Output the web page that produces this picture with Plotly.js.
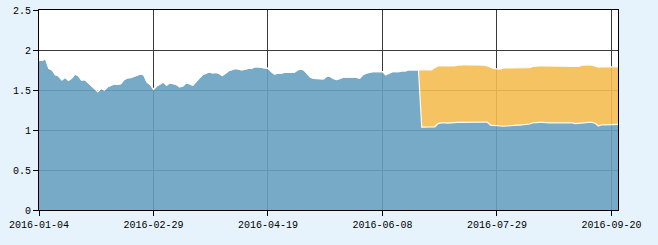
<!DOCTYPE html>
<html>
<head>
<meta charset="utf-8">
<script src="https://cdn.plot.ly/plotly-3.0.1.min.js"></script>
<style>html,body{margin:0;padding:0;background:#e7f3fc;}#chart{width:658px;height:245px;}</style>
</head>
<body>
<div id="chart"></div>
<script>
// Trading days (categories)
const dates = [
'2016-01-04','2016-01-05','2016-01-06','2016-01-07','2016-01-08','2016-01-11','2016-01-12','2016-01-13','2016-01-14','2016-01-15',
'2016-01-18','2016-01-19','2016-01-20','2016-01-21','2016-01-22','2016-01-25','2016-01-26','2016-01-27','2016-01-28','2016-01-29',
'2016-02-01','2016-02-02','2016-02-03','2016-02-04','2016-02-05','2016-02-15','2016-02-16','2016-02-17','2016-02-18','2016-02-19',
'2016-02-22','2016-02-23','2016-02-24','2016-02-25','2016-02-26','2016-02-29',
'2016-03-01','2016-03-02','2016-03-03','2016-03-04','2016-03-07','2016-03-08','2016-03-09','2016-03-10','2016-03-11','2016-03-14',
'2016-03-15','2016-03-16','2016-03-17','2016-03-18','2016-03-21','2016-03-22','2016-03-23','2016-03-24','2016-03-25','2016-03-28',
'2016-03-29','2016-03-30','2016-03-31',
'2016-04-01','2016-04-05','2016-04-06','2016-04-07','2016-04-08','2016-04-11','2016-04-12','2016-04-13','2016-04-14','2016-04-15',
'2016-04-18','2016-04-19','2016-04-20','2016-04-21','2016-04-22','2016-04-25','2016-04-26','2016-04-27','2016-04-28','2016-04-29',
'2016-05-03','2016-05-04','2016-05-05','2016-05-06','2016-05-09','2016-05-10','2016-05-11','2016-05-12','2016-05-13','2016-05-16',
'2016-05-17','2016-05-18','2016-05-19','2016-05-20','2016-05-23','2016-05-24','2016-05-25','2016-05-26','2016-05-27','2016-05-30',
'2016-05-31',
'2016-06-01','2016-06-02','2016-06-03','2016-06-06','2016-06-07','2016-06-08','2016-06-13','2016-06-14','2016-06-15','2016-06-16',
'2016-06-17','2016-06-20','2016-06-21','2016-06-22','2016-06-23','2016-06-24','2016-06-27','2016-06-28','2016-06-29','2016-06-30',
'2016-07-01','2016-07-04','2016-07-05','2016-07-06','2016-07-07','2016-07-08','2016-07-11','2016-07-12','2016-07-13','2016-07-14',
'2016-07-15','2016-07-18','2016-07-19','2016-07-20','2016-07-21','2016-07-22','2016-07-25','2016-07-26','2016-07-27','2016-07-28',
'2016-07-29',
'2016-08-01','2016-08-02','2016-08-03','2016-08-04','2016-08-05','2016-08-08','2016-08-09','2016-08-10','2016-08-11','2016-08-12',
'2016-08-15','2016-08-16','2016-08-17','2016-08-18','2016-08-19','2016-08-22','2016-08-23','2016-08-24','2016-08-25','2016-08-26',
'2016-08-29','2016-08-30','2016-08-31',
'2016-09-01','2016-09-02','2016-09-05','2016-09-06','2016-09-07','2016-09-08','2016-09-09','2016-09-12','2016-09-13','2016-09-14',
'2016-09-19','2016-09-20','2016-09-21','2016-09-22'
];

// Series 1 (blue, bottom)
const seriesBlue = [
1.87,1.87,1.89,1.77,1.75,1.69,1.675,1.625,1.66,1.62,
1.65,1.70,1.68,1.625,1.63,1.59,1.55,1.52,1.48,1.52,
1.50,1.54,1.56,1.575,1.57,1.58,1.63,1.65,1.655,1.67,
1.69,1.70,1.69,1.60,1.57,1.51,1.55,1.58,1.60,1.56,
1.59,1.58,1.57,1.54,1.55,1.59,1.58,1.56,1.61,1.65,
1.69,1.71,1.725,1.715,1.72,1.71,1.68,1.71,1.74,1.755,
1.77,1.76,1.75,1.76,1.77,1.77,1.79,1.79,1.785,1.775,
1.77,1.73,1.70,1.71,1.71,1.72,1.72,1.72,1.72,1.75,
1.76,1.75,1.70,1.66,1.645,1.645,1.645,1.64,1.675,1.67,
1.645,1.63,1.645,1.66,1.66,1.66,1.66,1.66,1.645,1.69,
1.71,1.72,1.73,1.73,1.73,1.73,1.69,1.71,1.73,1.73,
1.73,1.74,1.74,1.75,1.75,1.75,1.75,
1.035,1.035,1.035,1.035,1.04,1.08,1.09,1.09,1.085,1.09,
1.095,1.095,1.095,1.095,1.095,1.095,1.095,1.095,1.095,1.095,
1.10,1.06,1.055,1.055,1.047,1.047,1.05,1.055,1.055,1.06,
1.06,1.065,1.065,1.075,1.09,1.095,1.095,1.095,1.09,1.09,
1.09,1.09,1.09,1.09,1.09,1.095,1.09,1.08,1.085,1.09,
1.095,1.095,1.095,1.085,1.05,1.065,1.065,1.065,1.065,1.065,
1.07
];

// Series 2 (orange, stacked on top)
const seriesOrange = [
0,0,0,0,0,0,0,0,0,0, 0,0,0,0,0,0,0,0,0,0,
0,0,0,0,0,0,0,0,0,0, 0,0,0,0,0,0,0,0,0,0,
0,0,0,0,0,0,0,0,0,0, 0,0,0,0,0,0,0,0,0,0,
0,0,0,0,0,0,0,0,0,0, 0,0,0,0,0,0,0,0,0,0,
0,0,0,0,0,0,0,0,0,0, 0,0,0,0,0,0,0,0,0,0,
0,0,0,0,0,0,0,0,0,0, 0,0,0,0,0,0,0,
0.715,0.715,0.715,0.715,0.74,0.72,0.71,0.71,0.715,0.71,
0.705,0.715,0.72,0.72,0.72,0.72,0.72,0.72,0.715,0.715,
0.70,0.72,0.715,0.71,0.713,0.728,0.725,0.72,0.725,0.715,
0.715,0.71,0.71,0.705,0.705,0.705,0.705,0.705,0.71,0.71,
0.71,0.71,0.71,0.71,0.71,0.705,0.71,0.72,0.71,0.72,
0.72,0.72,0.715,0.71,0.735,0.725,0.725,0.725,0.725,0.725,
0.72
];

const tickLabels = ['2016-01-04','2016-02-29','2016-04-19','2016-06-08','2016-07-29','2016-09-20'];
const yTicks = [0, 0.5, 1, 1.5, 2, 2.5];
const yTickText = ['0','0.5','1','1.5','2','2.5'];

const font = {family: 'Liberation Mono, DejaVu Sans Mono, monospace', size: 10, color: '#000'};

const traces = [
  {x: dates, y: seriesBlue, type: 'scatter', mode: 'lines', stackgroup: 'one',
   line: {color: 'rgba(255,255,255,0.9)', width: 1.2, shape: 'linear'},
   fillcolor: 'rgba(104,161,193,0.9)'},
  {x: dates, y: seriesOrange, type: 'scatter', mode: 'lines', stackgroup: 'one',
   line: {color: 'rgba(255,255,255,0.9)', width: 1.2, shape: 'linear'},
   fillcolor: 'rgba(245,188,82,0.9)'}
];

const layout = {
  width: 658, height: 245,
  paper_bgcolor: '#e7f3fc', plot_bgcolor: '#ffffff',
  margin: {l: 39, r: 40, t: 10, b: 35, pad: 0},
  showlegend: false,
  hovermode: false,
  font: font,
  xaxis: {
    type: 'category', range: [0, dates.length - 1], autorange: false,
    tickmode: 'array', tickvals: tickLabels, ticktext: tickLabels,
    showgrid: true, gridcolor: '#3a3a3a', gridwidth: 1,
    showline: true, linecolor: '#000', linewidth: 1, mirror: true,
    ticks: 'outside', ticklen: 5, tickcolor: '#000', tickwidth: 1,
    tickfont: font, zeroline: false, tickangle: 0
  },
  yaxis: {
    range: [0, 2.5], autorange: false,
    tickmode: 'array', tickvals: yTicks, ticktext: yTickText,
    showgrid: true, gridcolor: '#3a3a3a', gridwidth: 1,
    showline: true, linecolor: '#000', linewidth: 1, mirror: true,
    ticks: 'outside', ticklen: 5, tickcolor: '#000', tickwidth: 1,
    tickfont: font, zeroline: false
  }
};

Plotly.newPlot('chart', traces, layout, {staticPlot: true, displayModeBar: false});
</script>
</body>
</html>
